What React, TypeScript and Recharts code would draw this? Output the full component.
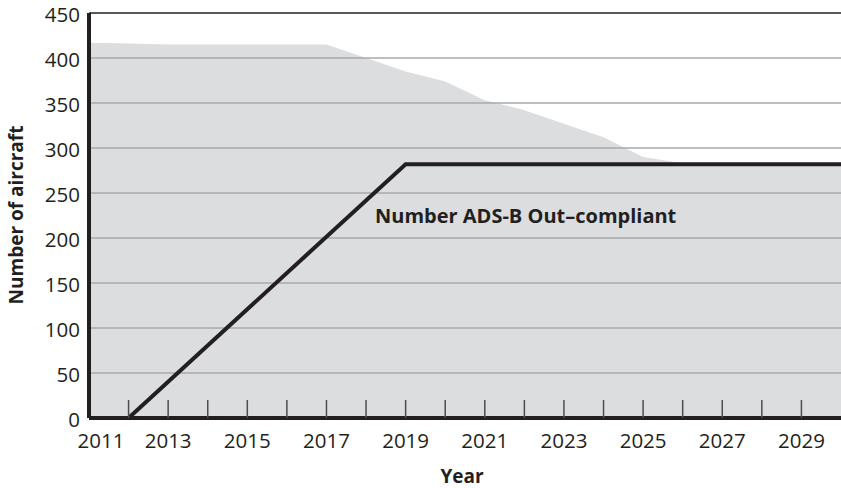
import React from 'react';
import { ComposedChart, Area, Line, XAxis, YAxis, ReferenceLine } from 'recharts';

const years = [2011, 2012, 2013, 2014, 2015, 2016, 2017, 2018, 2019, 2020, 2021, 2022, 2023, 2024, 2025, 2026, 2027, 2028, 2029, 2030];
const fleetTotal = [417, 416, 415, 415, 415, 415, 415, 400, 385, 374, 353, 342, 327, 312, 290, 283, 282, 282, 282, 282];
const adsbCompliant: (number | null)[] = [0, 0, null, null, null, null, null, null, 282, 282, 282, 282, 282, 282, 282, 282, 282, 282, 282, 282];
const xTickYears = [2011, 2012, 2013, 2014, 2015, 2016, 2017, 2018, 2019, 2020, 2021, 2022, 2023, 2024, 2025, 2026, 2027, 2028, 2029];
const xLabelYears = [2011, 2013, 2015, 2017, 2019, 2021, 2023, 2025, 2027, 2029];
const yTicks = [0, 50, 100, 150, 200, 250, 300, 350, 400, 450];
const gridValues = [50, 100, 150, 200, 250, 300, 350, 400];

const data = years.map((year, i) => ({ year, total: fleetTotal[i], compliant: adsbCompliant[i] }));

const INK = '#231f20';
const FONT = '"Open Sans", "Noto Sans", sans-serif';

function XTick(props: any) {
  const { x, y, payload } = props;
  const v = payload.value;
  const showLabel = xLabelYears.includes(v);
  const isFirst = v === years[0];
  return (
    <g>
      {!isFirst && <line x1={x} x2={x} y1={y - 18} y2={y} stroke="#4d4d4f" strokeWidth={1.5} />}
      {showLabel && (
        <text x={x + (isFirst ? 12 : 0)} y={y + 30} textAnchor="middle" fontSize={20.5} fill={INK} fontFamily={FONT}>
          {v}
        </text>
      )}
    </g>
  );
}

function YTick(props: any) {
  const { x, y, payload } = props;
  return (
    <text x={x} y={y + 1} textAnchor="end" dominantBaseline="central" fontSize={20.5} fill={INK} fontFamily={FONT}>
      {payload.value}
    </text>
  );
}

export default function App() {
  return (
    <div style={{ position: 'absolute', left: 0, top: 0, width: 841, height: 488, overflow: 'hidden' }}>
      <ComposedChart width={841} height={488} data={data} margin={{ top: 13, right: 0, bottom: 0, left: 0 }}>
        <Area
          type="linear"
          dataKey="total"
          fill="#dcdddf"
          fillOpacity={1}
          stroke="none"
          isAnimationActive={false}
        />
        {gridValues.map((v) => (
          <ReferenceLine key={v} y={v} stroke="#a7a9ac" strokeWidth={1.5} />
        ))}
        <ReferenceLine y={450} stroke={INK} strokeWidth={1.5} />
        <XAxis
          type="number"
          dataKey="year"
          domain={[2011, 2030]}
          ticks={xTickYears}
          interval={0}
          height={70}
          tickSize={0}
          tickMargin={0}
          tickLine={false}
          axisLine={{ stroke: INK, strokeWidth: 4 }}
          tick={<XTick />}
        />
        <YAxis
          type="number"
          domain={[0, 450]}
          ticks={yTicks}
          interval={0}
          width={89}
          tickSize={0}
          tickMargin={9}
          tickLine={false}
          axisLine={{ stroke: INK, strokeWidth: 4 }}
          tick={<YTick />}
        />
        <Line
          type="linear"
          dataKey="compliant"
          stroke={INK}
          strokeWidth={4}
          dot={false}
          connectNulls
          isAnimationActive={false}
        />
        <text x={462} y={483} textAnchor="middle" fontSize={19} fontWeight="bold" fill={INK} fontFamily={FONT}>
          Year
        </text>
        <text
          x={23}
          y={215}
          textAnchor="middle"
          fontSize={19}
          fontWeight="bold"
          fill={INK}
          fontFamily={FONT}
          transform="rotate(-90, 23, 215)"
        >
          Number of aircraft
        </text>
      </ComposedChart>
      <svg
        width={841}
        height={488}
        style={{ position: 'absolute', left: 0, top: 0, pointerEvents: 'none' }}
      >
        <text x={375} y={223} fontSize={20} fontWeight="bold" fill={INK} fontFamily={FONT}>
          Number ADS-B Out–compliant
        </text>
      </svg>
    </div>
  );
}
